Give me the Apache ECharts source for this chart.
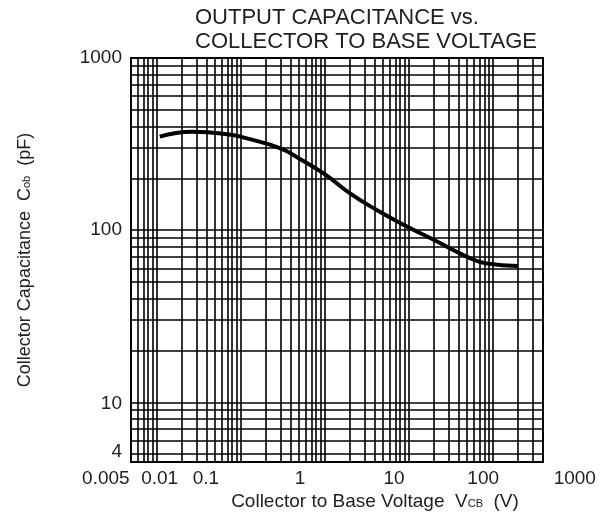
<!DOCTYPE html>
<html>
<head>
<meta charset="utf-8">
<script src="https://cdn.jsdelivr.net/npm/echarts@6/dist/echarts.min.js"></script>
<style>
  html, body { margin: 0; padding: 0; background: #fff; }
  #chart { width: 603px; height: 525px; }
</style>
</head>
<body>
<div id="chart"></div>
<script>
// curve
const voltage = [0.011, 0.027, 0.08, 0.12, 0.3, 0.5, 1, 2, 4.2, 9.6, 20, 50, 86, 200];
const capacitance = [349, 373, 357, 341, 299, 261, 212, 164, 131, 105, 88, 70, 64, 62];

// tick labels and where they sit (log10 of the grid value under each label)
const xTickLabels = ['0.005', '0.01', '0.1', '1', '10', '100', '1000'];
const xTickAt = [-2.60, -1.96, -1.41, -0.29, 0.83, 1.89, 2.98];
const yTickLabels = ['1000', '100', '10', '4'];
const yTickAt = [3, 2, 0.99, 0.71];

const mantissas = [1, 2, 3, 4, 5, 6, 7, 8, 9];

function logGrid(lo, hi) {
    const out = [];
    for (let e = -4; e <= 4; e++) {
        mantissas.forEach(m => {
            const v = +(m * Math.pow(10, e)).toPrecision(3);
            if (v >= lo && v <= hi) out.push(v);
        });
    }
    return out;
}

const font = 'Liberation Sans, Arial, sans-serif';
const gridLine = {show: true, lineStyle: {color: '#000', width: 1.6}};

function pick(labels, at, v) {
    let best = 0;
    at.forEach((a, i) => {
        if (Math.abs(a - v) < Math.abs(at[best] - v)) best = i;
    });
    return labels[best];
}

const chart = echarts.init(document.getElementById('chart'));

chart.setOption({
    animation: false,
    backgroundColor: '#fff',
    title: {
        text: 'OUTPUT CAPACITANCE vs.\nCOLLECTOR TO BASE VOLTAGE',
        left: 190,
        top: 1,
        textStyle: {fontFamily: font, fontSize: 22, fontWeight: 'normal', color: '#222', lineHeight: 24}
    },
    grid: [
        {left: 131, top: 58, width: 412, height: 404, show: true, borderColor: '#000', borderWidth: 2, backgroundColor: 'transparent'},
        {left: 0, right: 0, top: 0, height: 462},
        {left: 131, width: 412, top: 0, bottom: 0}
    ],
    xAxis: [
        {
            type: 'log', gridIndex: 0, min: 0.005, max: 400, logBase: 10,
            axisLine: {show: false},
            axisTick: {show: false, customValues: logGrid(0.005, 400)},
            axisLabel: {show: false},
            splitLine: gridLine,
            name: 'Collector to Base Voltage  V{sub|CB}  (V)',
            nameLocation: 'middle',
            nameGap: 30,
            nameTextStyle: {
                fontFamily: font, fontSize: 19, color: '#222', padding: [0, 0, 0, 76],
                rich: {sub: {fontFamily: font, fontSize: 11, color: '#222', padding: [4, 0, 0, 0]}}
            }
        },
        {
            type: 'value', gridIndex: 1, min: -3.860, max: 3.316,
            axisLine: {show: false},
            axisTick: {show: false},
            splitLine: {show: false},
            axisLabel: {
                customValues: xTickAt,
                margin: 7,
                fontFamily: font, fontSize: 19, color: '#222',
                formatter: v => pick(xTickLabels, xTickAt, v)
            }
        },
        {type: 'value', gridIndex: 2, show: false}
    ],
    yAxis: [
        {
            type: 'log', gridIndex: 0, min: 4.5, max: 1000, logBase: 10,
            axisLine: {show: false},
            axisTick: {show: false, customValues: logGrid(4.5, 1000)},
            axisLabel: {show: false},
            splitLine: gridLine,
            name: 'Collector Capacitance  C{sub|ob}  (pF)',
            nameLocation: 'middle',
            nameRotate: 90,
            nameGap: 97,
            nameTextStyle: {
                fontFamily: font, fontSize: 18, color: '#222',
                rich: {sub: {fontFamily: font, fontSize: 11, color: '#222', padding: [4, 0, 0, 0]}}
            }
        },
        {type: 'value', gridIndex: 1, show: false},
        {
            type: 'value', gridIndex: 2, min: 0.2873, max: 3.337,
            axisLine: {show: false},
            axisTick: {show: false},
            splitLine: {show: false},
            axisLabel: {
                customValues: yTickAt,
                margin: 9,
                fontFamily: font, fontSize: 19, color: '#222',
                formatter: v => pick(yTickLabels, yTickAt, v)
            }
        }
    ],
    series: [{
        type: 'line',
        xAxisIndex: 0,
        yAxisIndex: 0,
        data: voltage.map((v, i) => [v, capacitance[i]]),
        smooth: true,
        symbol: 'none',
        lineStyle: {color: '#000', width: 4},
        z: 5
    }]
});
</script>
</body>
</html>
